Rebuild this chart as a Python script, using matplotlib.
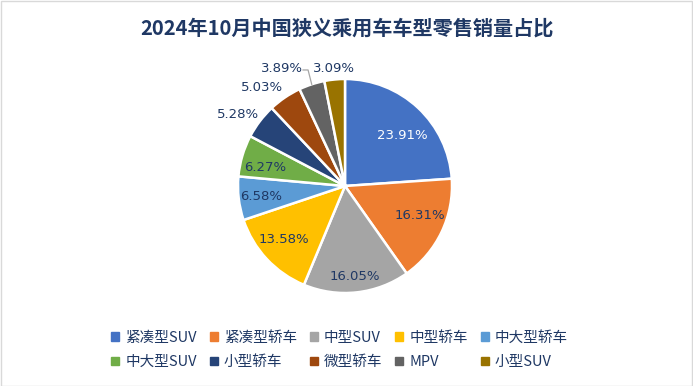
import numpy as np
import matplotlib.pyplot as plt
from matplotlib.patches import Rectangle

plt.rcParams['font.family'] = ['Noto Sans CJK SC', 'DejaVu Sans']

leixing = ['紧凑型SUV', '紧凑型轿车', '中型SUV', '中型轿车', '中大型轿车',
           '中大型SUV', '小型轿车', '微型轿车', 'MPV', '小型SUV']
zhanbi = [23.91, 16.31, 16.05, 13.58, 6.58, 6.27, 5.28, 5.03, 3.89, 3.09]
yanse = ['#4472C4', '#ED7D31', '#A5A5A5', '#FFC000', '#5B9BD5',
         '#70AD47', '#264478', '#9E480E', '#636363', '#997300']

W, H = 693, 386
fig = plt.figure(figsize=(W / 100, H / 100), dpi=100)
fig.patches.append(Rectangle((0.5 / W, 0.5 / H), 1 - 1.5 / W, 1 - 1.5 / H,
                             transform=fig.transFigure, fill=False,
                             edgecolor='#D9D9D9', linewidth=1))

cx, cy, r = 345, 186, 107
ax = fig.add_axes([(cx - r) / W, (H - cy - r) / H, 2 * r / W, 2 * r / H])

wedges, _ = ax.pie(zhanbi, colors=yanse, startangle=90, counterclock=False,
                   wedgeprops=dict(edgecolor='white', linewidth=1.8))
ax.set_xlim(-1, 1)
ax.set_ylim(-1, 1)
ax.set_aspect('equal')
ax.axis('off')

# label distance (fraction of radius) and angle shift (deg) per slice
juli = [0.715, 0.747, 0.855, 0.762, 0.786, 0.769, 1.204, 1.20, 1.248, 1.105]
jiao = [-5.2, 4.1, 0, -1.5, 0.6, 3.8, 3.4, 5.9, 10.0, -0.4]
wenzi_se = ['white'] + ['#1F3864'] * 9

for i, w in enumerate(wedges):
    ang = np.deg2rad((w.theta1 + w.theta2) / 2 + jiao[i])
    x = juli[i] * np.cos(ang)
    y = juli[i] * np.sin(ang)
    ax.text(x, y, f'{zhanbi[i]:.2f}%', ha='center', va='center',
            fontsize=9.5, color=wenzi_se[i], family='DejaVu Sans')

# leader line for the MPV label
w = wedges[8]
ang = np.deg2rad((w.theta1 + w.theta2) / 2)
x0, y0 = np.cos(ang), np.sin(ang)
ax.plot([x0, x0 - 0.034, x0 - 0.081], [y0, y0 + 0.134, y0 + 0.134],
        color='#A6A6A6', linewidth=0.9, clip_on=False)

fig.text(0.5, 1 - 28 / H, '2024年10月中国狭义乘用车车型零售销量占比',
         ha='center', va='center', fontsize=14.5, fontweight='bold',
         color='#1F3864')

order = [0, 5, 1, 6, 2, 7, 3, 8, 4, 9]
handles = [Rectangle((0, 0), 1, 1, color=yanse[i]) for i in order]
labels = [leixing[i] for i in order]
leg = fig.legend(handles, labels, ncol=5, loc='center',
                 bbox_to_anchor=(0.49, 1 - 350 / H), frameon=False,
                 fontsize=10.5, handlelength=0.55, handleheight=0.55,
                 handletextpad=0.4, columnspacing=0.9, labelspacing=0.7)
for t in leg.get_texts():
    t.set_color('#1F3864')

fig.savefig('out.png', dpi=100)
